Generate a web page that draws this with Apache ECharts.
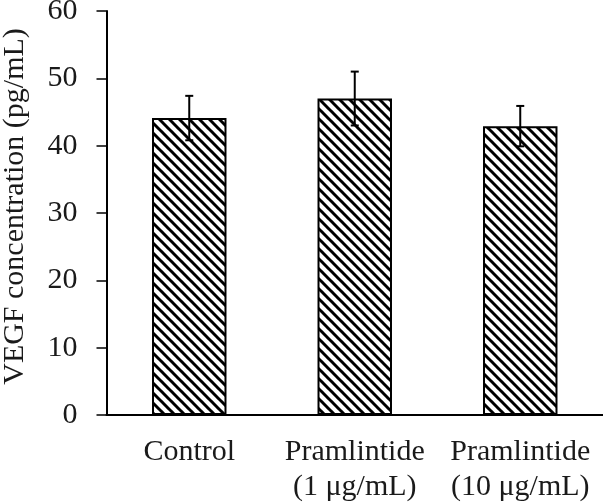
<!DOCTYPE html>
<html>
<head>
<meta charset="utf-8">
<script src="https://cdn.jsdelivr.net/npm/echarts@6/dist/echarts.min.js"></script>
<style>
html,body{margin:0;padding:0;background:#fff;}
#chart{width:603px;height:504px;}
</style>
</head>
<body>
<div id="chart"></div>
<script>
const categories = ['Control', 'Pramlintide\n(1 μg/mL)', 'Pramlintide\n(10 μg/mL)'];
const means = [44.1, 47.0, 42.9];
const errors = [3.3, 4.0, 3.0];
const yMin = 0, yMax = 60, yInterval = 10;
const yName = 'VEGF concentration (pg/mL)';

function makeHatch() {
  const s = 10;
  const c = document.createElement('canvas');
  c.width = s; c.height = s;
  const ctx = c.getContext('2d');
  ctx.fillStyle = '#fff';
  ctx.fillRect(0, 0, s, s);
  ctx.strokeStyle = '#000';
  ctx.lineWidth = 3;
  for (const k of [-s, 0, s]) {
    ctx.beginPath();
    ctx.moveTo(k - 1, -1);
    ctx.lineTo(k + s + 1, s + 1);
    ctx.stroke();
  }
  return c;
}

const font = '"Liberation Serif", "Times New Roman", serif';
const chart = echarts.init(document.getElementById('chart'), null, {renderer: 'canvas'});
const errData = means.map((m, i) => [i, m, errors[i]]);

chart.setOption({
  backgroundColor: '#fff',
  animation: false,
  grid: {left: 106.5, right: 0, top: 11, bottom: 89, containLabel: false, outerBoundsMode: 'none'},
  xAxis: {
    type: 'category',
    data: categories,
    axisLine: {lineStyle: {color: '#000', width: 2}},
    axisTick: {show: false},
    axisLabel: {color: '#1a1a1a', fontFamily: font, fontSize: 30, lineHeight: 35, margin: 20, interval: 0, hideOverlap: false}
  },
  yAxis: {
    type: 'value',
    min: yMin, max: yMax, interval: yInterval,
    name: yName,
    nameLocation: 'middle',
    nameGap: 76,
    nameTextStyle: {color: '#1a1a1a', fontFamily: font, fontSize: 30, padding: [0, 0, 0, 13]},
    axisLine: {show: true, lineStyle: {color: '#000', width: 2}},
    axisTick: {show: true, length: 10, lineStyle: {color: '#000', width: 1.5}},
    axisLabel: {color: '#1a1a1a', fontFamily: font, fontSize: 30, margin: 29},
    splitLine: {show: false}
  },
  series: [
    {
      type: 'bar',
      data: means,
      barWidth: '45%',
      itemStyle: {
        color: {image: makeHatch(), repeat: 'repeat'},
        borderColor: '#000',
        borderWidth: 2
      },
      z: 2
    },
    {
      type: 'custom',
      data: errData,
      z: 5,
      renderItem: function (params, api) {
        const i = api.value(0), m = api.value(1), e = api.value(2);
        const top = api.coord([i, m + e]);
        const bot = api.coord([i, m - e]);
        const hw = 4;
        const st = {stroke: '#000', lineWidth: 2};
        return {
          type: 'group',
          children: [
            {type: 'line', shape: {x1: top[0], y1: top[1], x2: bot[0], y2: bot[1]}, style: st},
            {type: 'line', shape: {x1: top[0] - hw, y1: top[1], x2: top[0] + hw, y2: top[1]}, style: st},
            {type: 'line', shape: {x1: bot[0] - hw, y1: bot[1], x2: bot[0] + hw, y2: bot[1]}, style: st}
          ]
        };
      }
    }
  ]
});
</script>
</body>
</html>
